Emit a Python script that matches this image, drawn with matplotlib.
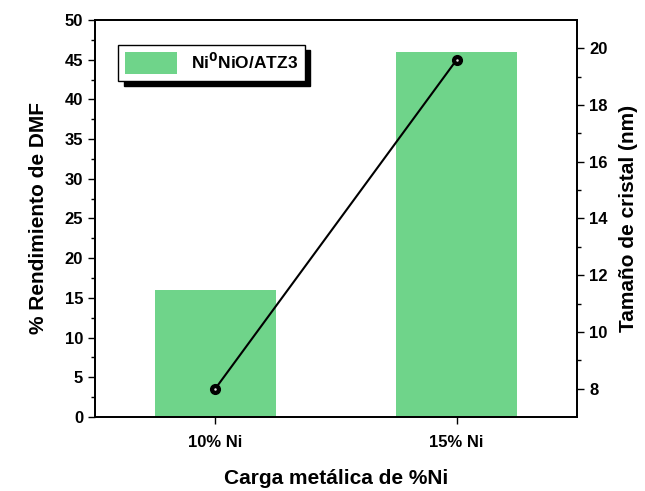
import matplotlib.pyplot as plt

plt.rcParams['font.family'] = ['Liberation Sans', 'DejaVu Sans']
plt.rcParams['font.weight'] = 'bold'
plt.rcParams['mathtext.default'] = 'bf'

categories = ['10% Ni', '15% Ni']
rendimiento = [16, 46]      # % Rendimiento de DMF
tamano = [8.0, 19.6]        # Tamaño de cristal (nm)
legend_label = r'Ni$^\mathbf{0}$NiO/ATZ3'

x = range(len(categories))

fig = plt.figure(figsize=(6.45, 4.91), dpi=100)
ax = fig.add_axes([0.147, 0.151, 0.748, 0.808])

ax.bar(x, rendimiento, width=0.5, color='#6fd48a', label=legend_label, zorder=2)
ax.set_xlim(-0.5, 1.5)
ax.set_ylim(0, 50)
ax.set_yticks(range(0, 51, 5))
ax.set_yticks([v + 2.5 for v in range(0, 50, 5)], minor=True)
ax.set_xticks(list(x))
ax.set_xticklabels(categories, fontsize=12, fontweight='bold')
ax.set_yticklabels([str(v) for v in range(0, 51, 5)], fontsize=12, fontweight='bold')
ax.tick_params(axis='y', direction='out', length=5, width=1)
ax.tick_params(axis='y', which='minor', length=3, width=1)
ax.tick_params(axis='x', length=5, width=1, pad=8)
ax.set_ylabel('% Rendimiento de DMF', fontsize=15, fontweight='bold', labelpad=12)
ax.set_xlabel('Carga metálica de %Ni', fontsize=15, fontweight='bold', labelpad=14)
for s in ax.spines.values():
    s.set_linewidth(1.3)

ax2 = ax.twinx()
ax2.plot(x, tamano, color='black', linewidth=1.5, marker='o', markersize=7,
         markerfacecolor='black', markeredgecolor='black', zorder=3)
ax2.plot(x, tamano, linestyle='none', marker='o', markersize=1.8,
         markerfacecolor='#dddddd', markeredgewidth=0, zorder=4)
ax2.set_ylim(7, 21)
ax2.set_yticks(range(8, 21, 2))
ax2.set_yticks(range(9, 21, 2), minor=True)
ax2.set_yticklabels([str(v) for v in range(8, 21, 2)], fontsize=12, fontweight='bold')
ax2.tick_params(axis='y', direction='out', length=5, width=1)
ax2.tick_params(axis='y', which='minor', length=3, width=1)
ax2.set_ylabel('Tamaño de cristal (nm)', fontsize=15, fontweight='bold', labelpad=8)
for s in ax2.spines.values():
    s.set_linewidth(1.3)

leg = ax.legend(loc='upper left', bbox_to_anchor=(0.03, 0.96), fontsize=12.5,
                fancybox=False, shadow={'color': 'black', 'alpha': 1, 'ox': 4, 'oy': -4},
                framealpha=1, edgecolor='black',
                handlelength=3.0, handleheight=1.5, borderpad=0.4)
for t in leg.get_texts():
    t.set_fontweight('bold')
leg.get_frame().set_linewidth(1)

fig.savefig('out.png', dpi=100)
